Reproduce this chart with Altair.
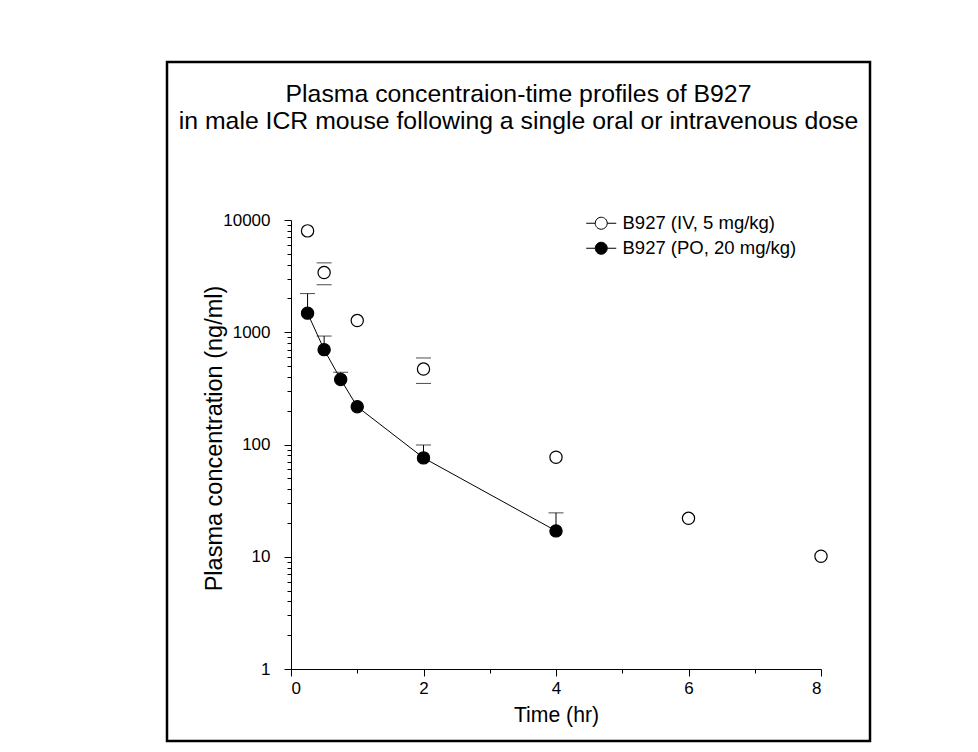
import altair as alt
import pandas as pd

title_lines = [
    "Plasma concentraion-time profiles of B927",
    "in male ICR mouse following a single oral or intravenous dose",
]
series_names = ["B927 (IV, 5 mg/kg)", "B927 (PO, 20 mg/kg)"]

iv_time = [0.25, 0.5, 1, 2, 4, 6, 8]
iv_conc = [8000, 3400, 1270, 470, 77, 22, 10.1]
iv_err_time = [0.5, 2]
iv_err_conc = [3400, 470]
iv_err_sd = [750, 120]

po_time = [0.25, 0.5, 0.75, 1, 2, 4]
po_conc = [1480, 700, 380, 217, 76, 17]
po_err_time = [0.25, 0.5, 0.75, 2, 4]
po_err_conc = [1480, 700, 380, 76, 17]
po_err_sd = [730, 225, 60, 23, 7.6]

x_tick_values = [0, 1, 2, 3, 4, 5, 6, 7, 8]
y_major = [1, 10, 100, 1000, 10000]
y_tick_values = [d * k for d in [1, 10, 100, 1000] for k in range(1, 10)] + [10000]

FONT = "Liberation Sans"

pts = pd.DataFrame({
    "time": iv_time + po_time,
    "conc": iv_conc + po_conc,
    "series": [series_names[0]] * len(iv_time) + [series_names[1]] * len(po_time),
})
po_df = pd.DataFrame({"time": po_time, "conc": po_conc})

caps = pd.DataFrame({
    "time": iv_err_time + iv_err_time + po_err_time,
    "conc": [c + s for c, s in zip(iv_err_conc, iv_err_sd)]
    + [c - s for c, s in zip(iv_err_conc, iv_err_sd)]
    + [c + s for c, s in zip(po_err_conc, po_err_sd)],
})
rules = pd.DataFrame({
    "time": po_err_time,
    "conc": po_err_conc,
    "upper": [c + s for c, s in zip(po_err_conc, po_err_sd)],
})

x_axis = alt.Axis(
    values=x_tick_values,
    labelExpr="datum.value % 2 == 0 ? datum.label : ''",
    tickSize={"condition": {"test": "datum.value % 2 == 0", "value": 7}, "value": 4},
    labelPadding=4,
    titleY=46,
    titleBaseline="middle",
    grid=False,
)
y_axis = alt.Axis(
    values=y_tick_values,
    format="d",
    labelExpr="indexof([1,10,100,1000,10000], datum.value) >= 0 ? datum.label : ''",
    tickSize={"condition": {"test": "indexof([1,10,100,1000,10000], datum.value) >= 0", "value": 7}, "value": 4},
    labelPadding=14,
    titleX=-77,
    titleY=218,
    titleBaseline="middle",
    titleAngle=270,
    grid=False,
)

X = alt.X("time:Q", scale=alt.Scale(domain=[0, 8], nice=False, zero=False), axis=x_axis, title="Time (hr)")
Y = alt.Y("conc:Q", scale=alt.Scale(type="log", domain=[1, 10000], nice=False), axis=y_axis,
          title="Plasma concentration (ng/ml)")

legend_path = "M-2,0L-0.8,0M0.8,0L2,0M0.8,0A0.8,0.8,0,1,1,-0.8,0A0.8,0.8,0,1,1,0.8,0Z"

line = alt.Chart(po_df).mark_line(color="black", strokeWidth=1).encode(x=X, y=Y)
err_rules = alt.Chart(rules).mark_rule(color="black", strokeWidth=1).encode(x=X, y=Y, y2="upper:Q")
err_caps = alt.Chart(caps).mark_tick(color="black", orient="horizontal", size=15, thickness=1).encode(x=X, y=Y)
points = alt.Chart(pts).mark_point(shape="circle", filled=True, stroke="black", strokeWidth=1.2,
                                   size=150, opacity=1).encode(
    x=X, y=Y,
    fill=alt.Fill("series:N", scale=alt.Scale(domain=series_names, range=["white", "black"]),
                  legend=alt.Legend(title=None, orient="none", legendX=301, legendY=-6,
                                    symbolType=legend_path, symbolSize=225,
                                    symbolStrokeColor="black", symbolStrokeWidth=1,
                                    symbolOpacity=1, labelLimit=400,
                                    labelFont=FONT, labelFontSize=18.5, labelColor="black",
                                    labelOffset=12, rowPadding=6, padding=0)),
)

one = pd.DataFrame({"a": [0]})
frame = alt.Chart(one).mark_rect(fill=None, stroke="black", strokeWidth=2.5).encode(
    x=alt.value(-124), x2=alt.value(579), y=alt.value(-158), y2=alt.value(521))
t1 = alt.Chart(one).mark_text(text=title_lines[0], font=FONT, fontSize=24.8, color="black",
                              align="center", baseline="middle").encode(x=alt.value(227.5), y=alt.value(-125))
t2 = alt.Chart(one).mark_text(text=title_lines[1], font=FONT, fontSize=24.8, color="black",
                              align="center", baseline="middle").encode(x=alt.value(227.5), y=alt.value(-98))

chart = alt.layer(frame, t1, t2, line, err_rules, err_caps, points).properties(
    width=530, height=449,
    background="white",
    autosize=alt.AutoSizeParams(type="none"),
    padding={"left": 283, "top": 212, "right": 149, "bottom": 75},
).configure_view(stroke=None).configure_axis(
    grid=False, domainColor="black", tickColor="black", labelColor="black", titleColor="black",
    labelFont=FONT, titleFont=FONT, titleFontWeight="normal", domainWidth=1, tickWidth=1,
    labelFontSize=17,
).configure_axisX(titleFontSize=21.2).configure_axisY(titleFontSize=23.5)

chart.save("out.html", embed_options={"renderer": "svg", "actions": False})
